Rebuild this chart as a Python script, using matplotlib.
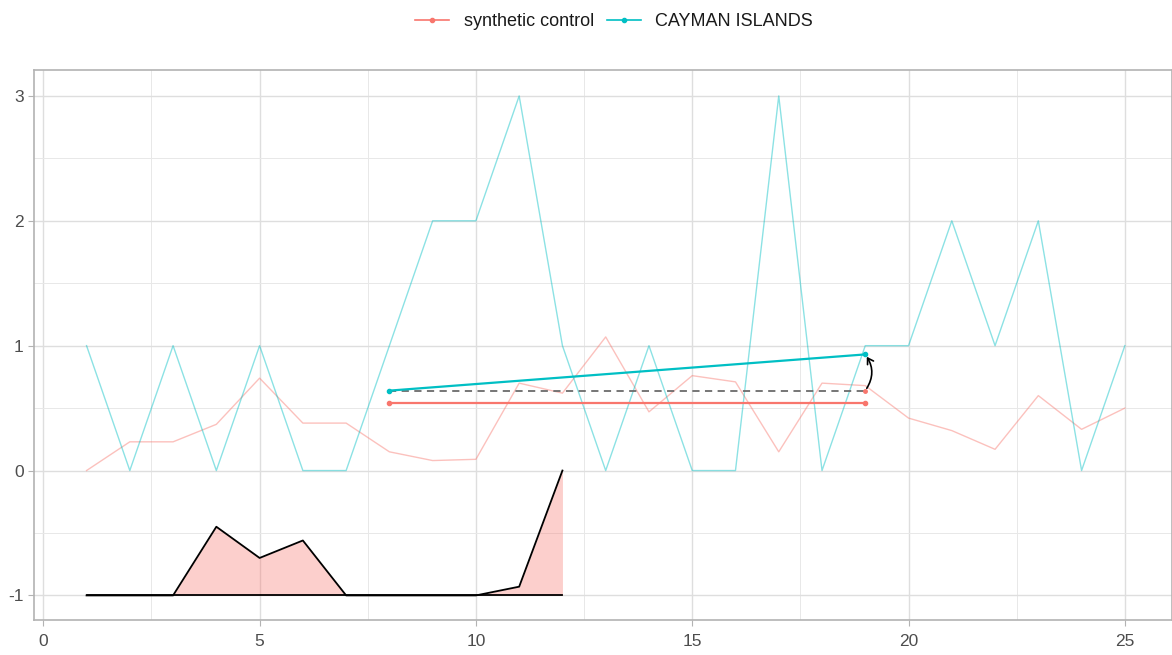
import matplotlib
matplotlib.use("Agg")
import matplotlib.pyplot as plt
from matplotlib.patches import FancyArrowPatch
from matplotlib.lines import Line2D

plt.rcParams['font.family'] = ['Liberation Sans', 'DejaVu Sans']
plt.rcParams['axes.unicode_minus'] = False

# series, x = 1..25
years = list(range(1, 26))
cayman = [1, 0, 1, 0, 1, 0, 0, 1, 2, 2, 3, 1, 0, 1, 0, 0, 3, 0, 1, 1, 2, 1, 2, 0, 1]
synth = [0, 0.23, 0.23, 0.37, 0.74, 0.38, 0.38, 0.15, 0.08, 0.09, 0.70, 0.62, 1.07,
         0.47, 0.76, 0.71, 0.15, 0.70, 0.68, 0.42, 0.32, 0.17, 0.60, 0.33, 0.50]

# area at the bottom, x = 1..12
area_x = list(range(1, 13))
area_y = [-1, -1, -1, -0.45, -0.70, -0.56, -1, -1, -1, -1, -0.93, 0]
area_base = -1

# summary segments
seg_x = [8, 19]
cayman_seg = [0.64, 0.93]
synth_seg = [0.54, 0.54]
dash_y = 0.64

red = '#F8766D'
teal = '#00BFC4'

fig = plt.figure(figsize=(11.72, 6.55), dpi=100)
ax = fig.add_axes([0.029, 0.0534, 0.971, 0.8402])

ax.plot(years, synth, color=red, alpha=0.45, lw=1, zorder=2)
ax.plot(years, cayman, color=teal, alpha=0.45, lw=1, zorder=2)

ax.fill_between(area_x, area_y, area_base, color=red, alpha=0.35, lw=0, zorder=2)
ax.plot(area_x, area_y, color='black', lw=1.3, zorder=3)
ax.plot([area_x[0], area_x[-1]], [area_base, area_base], color='black', lw=1.3, zorder=3)

ax.plot(seg_x, [dash_y, dash_y], color='#6b6b6b', lw=1.3, ls=(0, (4, 3)), zorder=3)
ax.plot(seg_x, synth_seg, color=red, lw=1.6, marker='o', ms=3, zorder=4)
ax.plot(seg_x, cayman_seg, color=teal, lw=1.6, marker='o', ms=3, zorder=4)
ax.plot([seg_x[1]], [dash_y], color=red, marker='o', ms=2.5, zorder=4)

arr = FancyArrowPatch((seg_x[1], dash_y), (seg_x[1], cayman_seg[1]),
                      connectionstyle='arc3,rad=0.35', arrowstyle='->,head_length=4,head_width=2.5',
                      color='black', lw=1.2, zorder=5)
ax.add_patch(arr)

ax.set_xlim(-0.215, 26.09)
ax.set_ylim(-1.197, 3.21)
ax.set_xticks([0, 5, 10, 15, 20, 25])
ax.set_yticks([-1, 0, 1, 2, 3])
ax.set_xticks([2.5, 7.5, 12.5, 17.5, 22.5], minor=True)
ax.set_yticks([-0.5, 0.5, 1.5, 2.5], minor=True)
ax.grid(which='major', color='#dedede', lw=1.0, zorder=0)
ax.grid(which='minor', color='#e8e8e8', lw=0.7, zorder=0)
ax.set_axisbelow(True)
for s in ax.spines.values():
    s.set_color('#b3b3b3')
    s.set_linewidth(1.2)
ax.tick_params(which='major', colors='#b3b3b3', labelcolor='#4d4d4d', labelsize=12.5, length=4)
ax.tick_params(axis='x', pad=6)
ax.tick_params(which='minor', length=0)

handles = [Line2D([], [], color=red, marker='o', ms=3, lw=1.2, label='synthetic control'),
           Line2D([], [], color=teal, marker='o', ms=3, lw=1.2, label='CAYMAN ISLANDS')]
fig.legend(handles=handles, loc='upper center', bbox_to_anchor=(0.524, 1.005), ncol=2,
           frameon=False, fontsize=13, handlelength=1.9, handletextpad=0.8,
           columnspacing=0.7, labelcolor='#1a1a1a')

fig.savefig('out.png', dpi=100)
